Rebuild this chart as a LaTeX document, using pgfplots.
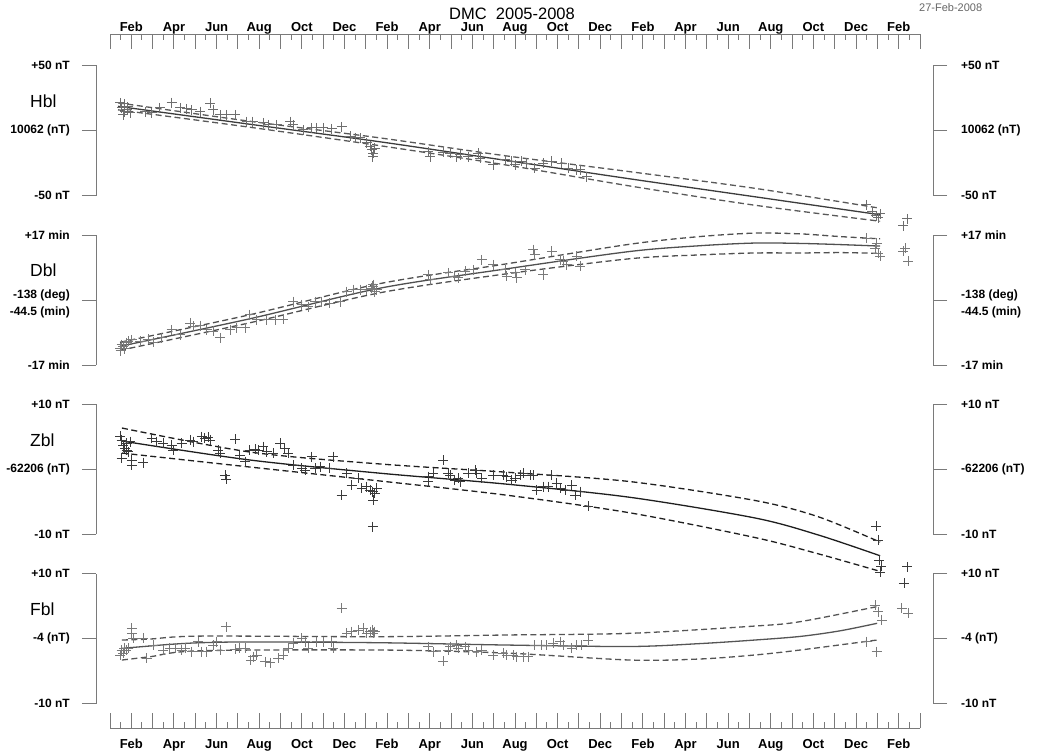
\documentclass[border=0pt]{standalone}
\usepackage{pgfplots}
\pgfplotsset{compat=1.18}
\usepackage{fontspec}
\setmainfont{Liberation Sans}
\definecolor{spine}{HTML}{7A7A7A}
\definecolor{mkH}{HTML}{6E6E6E}
\definecolor{lnH}{HTML}{3C3C3C}
\definecolor{mkD}{HTML}{7A7A7A}
\definecolor{lnD}{HTML}{505050}
\definecolor{mkZ}{HTML}{3A3A3A}
\definecolor{lnZ}{HTML}{1E1E1E}
\definecolor{mkF}{HTML}{7A7A7A}
\definecolor{lnF}{HTML}{555555}
\pgfplotsset{
  panelbase/.style={width=837pt,height=130pt,scale only axis,xmin=-0.656,xmax=38.58,clip=false,
    axis x line=none, tick align=outside, major tick length=14pt,
    axis line style={-,spine,line width=1pt}, every tick/.append style={spine,line width=1pt},
    minor tick num=0},
  panelL/.style={panelbase, axis y line*=left,
    yticklabel style={font=\bfseries\fontsize{12}{17.7}\selectfont, inner sep=0pt, align=right, anchor=east, xshift=-12pt}},
  panelR/.style={panelbase, axis y line*=right,
    yticklabel style={font=\bfseries\fontsize{12}{17.7}\selectfont, inner sep=0pt, align=left, anchor=west, xshift=14pt}},
  marks/.style={only marks, mark=+, mark size=5pt, mark options={line width=0.9pt, solid}},
  fit/.style={smooth, no marks, line width=1.3pt},
  band/.style={smooth, no marks, line width=1.3pt, dash pattern=on 6pt off 3.5pt},
  timeax/.style={width=810pt,height=20pt,scale only axis,xmin=0,xmax=38,ymin=0,ymax=1,
    axis y line=none, tick align=inside, major tick length=15pt, minor tick length=6pt,
    xtick={0,...,38}, minor xtick={0.5,1.5,...,37.5},
    xticklabels={,Feb,,Apr,,Jun,,Aug,,Oct,,Dec,,Feb,,Apr,,Jun,,Aug,,Oct,,Dec,,Feb,,Apr,,Jun,,Aug,,Oct,,Dec,,Feb,},
    axis line style={-,spine,line width=1pt}, every tick/.append style={spine,line width=1pt}},
}
\begin{document}
\begin{tikzpicture}
\path[use as bounding box] (0pt,0pt) rectangle (1048pt,-755pt);

% title and date
\node[anchor=base, inner sep=0pt, font=\fontsize{16.5}{16.5}\selectfont] at (512pt,-19pt) {DMC\ \ 2005-2008};
\node[anchor=base west, inner sep=0pt, text=black!60, font=\fontsize{11}{11}\selectfont] at (919pt,-11pt) {27-Feb-2008};

% panel names
\node[anchor=west, inner sep=0pt, font=\fontsize{17.5}{17.5}\selectfont] at (30pt,-101pt) {Hbl};
\node[anchor=west, inner sep=0pt, font=\fontsize{17.5}{17.5}\selectfont] at (30pt,-270pt) {Dbl};
\node[anchor=west, inner sep=0pt, font=\fontsize{17.5}{17.5}\selectfont] at (30pt,-440pt) {Zbl};
\node[anchor=west, inner sep=0pt, font=\fontsize{17.5}{17.5}\selectfont] at (30pt,-609pt) {Fbl};

% top time axis
\begin{axis}[timeax, at={(110pt,-34pt)}, anchor=north west, axis x line*=top,
  xticklabel style={font=\bfseries\fontsize{13}{13}\selectfont, inner sep=0pt, anchor=base, yshift=3pt}]
\end{axis}
% bottom time axis
\begin{axis}[timeax, at={(110pt,-728pt)}, anchor=south west, axis x line*=bottom,
  xticklabel style={font=\bfseries\fontsize{13}{13}\selectfont, inner sep=0pt, anchor=base, yshift=-20pt}]
\end{axis}

% ---------------- Hbl ----------------
\begin{axis}[panelL, at={(96pt,-195.5pt)}, anchor=south west, ymin=-50, ymax=50,
  ytick={-50,0,50}, yticklabels={-50 nT,10062 (nT),+50 nT}]
\addplot[marks, color=mkH] coordinates {
(0.47,21.3)(0.56,17.5)(0.70,14.4)(0.80,15.9)(0.61,12.1)(0.84,18.2)(0.94,13.6)(0.66,20.5)
(1.64,14.6)(1.95,13.6)(2.34,17.5)(2.89,21.5)(3.28,17.5)(3.60,16.7)(3.83,15.9)(4.22,14.6)
(4.69,21.1)(4.83,15.9)(5.16,12.1)(5.47,12.1)(5.86,12.1)(6.41,6.9)(6.70,6.9)(7.17,5.9)
(7.41,4.4)(7.82,4.4)(8.44,6.9)(8.58,4.4)(9.05,0.5)(9.46,2.1)(9.69,2.1)(9.99,2.1)
(10.39,1.3)(10.86,2.8)(11.25,-4.6)(11.49,-5.6)(11.72,-5.6)(12.03,-9.5)(12.19,-12.3)
(12.27,-14.8)(12.34,-17.4)(12.42,-13.5)(12.32,-20.0)
(15.00,-20.0)(14.91,-16.2)(15.61,-16.9)(15.94,-17.4)(16.25,-20.0)(16.41,-18.7)(16.78,-20.0)
(17.25,-17.4)(17.35,-21.2)(17.96,-26.4)(18.52,-22.5)(18.83,-23.8)(18.99,-26.4)(19.30,-23.8)
(19.54,-25.1)(19.92,-28.9)(20.30,-25.1)(20.71,-23.8)(21.18,-25.1)(21.47,-28.9)(21.88,-30.2)
(22.03,-30.2)(22.35,-35.4)
(35.44,-57.2)(35.72,-62.5)(35.91,-65.6)(36.10,-64.1)(36.01,-67.2)(37.18,-73.3)(37.37,-67.9)
};
\addplot[fit, color=lnH] coordinates {
(0.375,18.6)(6.56,4.8)(12.66,-8.7)(18.52,-22.9)(24.38,-37.2)(30.24,-51.0)(36.10,-64.8)};
\addplot[band, color=lnH!85!white] coordinates {
(0.375,21.3)(6.56,7.1)(12.66,-5.7)(18.52,-19.4)(24.38,-31.7)(30.24,-44.5)(36.10,-59.8)};
\addplot[band, color=lnH!85!white] coordinates {
(0.375,15.9)(6.56,2.5)(12.66,-11.7)(18.52,-26.4)(24.38,-42.7)(30.24,-57.5)(36.10,-69.8)};
\end{axis}
\begin{axis}[panelR, at={(96pt,-195.5pt)}, anchor=south west, ymin=-50, ymax=50,
  ytick={-50,0,50}, yticklabels={-50 nT,10062 (nT),+50 nT}]
\end{axis}

% ---------------- Dbl ----------------
\begin{axis}[panelL, at={(96pt,-365pt)}, anchor=south west, ymin=-17, ymax=17,
  ytick={-17,17}, yticklabels={-17 min,+17 min},
  extra y ticks={0}, extra y tick labels={{-138 (deg)\\-44.5 (min)}},
  extra y tick style={yticklabel style={yshift=-4pt}}]
\addplot[marks, color=mkD] coordinates {
(0.47,-12.6)(0.55,-11.7)(0.62,-12.1)(0.75,-11.2)(0.86,-10.8)(1.02,-10.4)(0.50,-13.3)(0.66,-12.8)
(1.41,-10.8)(1.80,-10.2)(2.03,-11.1)(2.42,-9.9)(2.89,-7.8)(3.28,-9.1)(3.75,-6.0)(3.91,-6.9)
(4.22,-6.7)(4.53,-7.8)(4.84,-8.2)(5.16,-9.9)(5.63,-7.8)(5.94,-7.3)(6.33,-7.3)(6.56,-3.8)
(6.88,-5.2)(7.35,-5.2)(7.74,-5.2)(8.12,-5.0)(8.59,-0.4)(8.99,-1.2)(9.30,-1.7)(9.61,-0.4)
(9.93,-0.4)(10.31,-0.8)(10.78,-0.4)(11.10,2.2)(11.41,2.7)(11.72,2.7)(12.03,2.7)(12.27,3.1)
(12.34,4.0)(12.42,2.2)(12.32,3.6)(12.50,2.7)
(14.92,6.6)(15.00,5.3)(15.86,7.1)(16.17,6.2)(16.33,5.8)(16.64,7.5)(17.03,7.9)(17.43,10.5)
(17.97,9.2)(18.52,7.9)(18.60,6.2)(18.99,7.1)(19.07,5.8)(19.46,7.9)(19.85,13.2)(19.92,11.8)
(20.31,6.6)(20.71,12.7)(21.10,10.5)(21.25,10.1)(21.41,9.2)(21.88,11.4)(22.03,8.8)
(35.47,16.2)(35.94,14.9)(36.02,12.3)(36.10,11.4)(35.86,13.6)(37.27,13.6)(37.19,12.7)(37.43,10.1)
};
\addplot[fit, color=lnD] coordinates {
(0.47,-12.1)(6.56,-4.9)(12.66,3.1)(18.52,8.1)(24.38,12.7)(27.66,14.2)(30.24,14.9)(32.35,14.8)(34.2,14.5)(36.10,14.1)};
\addplot[band, color=lnD] coordinates {
(0.47,-11.05)(6.56,-3.85)(12.66,4.3)(18.52,9.4)(24.38,14.6)(27.66,16.6)(30.24,17.5)(32.35,17.3)(34.2,16.6)(36.10,16.0)};
\addplot[band, color=lnD] coordinates {
(0.47,-13.15)(6.56,-5.95)(12.66,1.9)(18.52,6.8)(24.38,10.8)(27.66,11.8)(30.24,12.3)(32.35,12.3)(34.2,12.4)(36.10,12.2)};
\end{axis}
\begin{axis}[panelR, at={(96pt,-365pt)}, anchor=south west, ymin=-17, ymax=17,
  ytick={-17,17}, yticklabels={-17 min,+17 min},
  extra y ticks={0}, extra y tick labels={{-138 (deg)\\-44.5 (min)}},
  extra y tick style={yticklabel style={yshift=-4pt}}]
\end{axis}

% ---------------- Zbl ----------------
\begin{axis}[panelL, at={(96pt,-534.3pt)}, anchor=south west, ymin=-10, ymax=10,
  ytick={-10,0,10}, yticklabels={-10 nT,-62206 (nT),+10 nT}]
\addplot[marks, color=mkZ] coordinates {
(0.47,5.12)(0.55,4.51)(0.62,3.74)(0.70,3.23)(0.78,4.0)(0.86,2.71)(0.55,1.69)(1.02,1.43)
(1.02,0.66)(0.78,2.97)(0.94,4.25)(1.56,1.02)(1.95,4.77)(2.19,4.25)(2.50,4.0)(2.89,3.74)
(2.97,2.97)(3.36,4.0)(3.75,4.51)(3.91,4.25)(4.30,5.02)(4.45,4.77)(4.61,4.92)(4.69,4.51)
(5.08,2.97)(5.16,2.46)(5.39,-0.88)(5.44,-1.54)(5.86,4.62)(6.09,2.2)(6.33,1.17)(6.56,2.97)
(6.80,3.08)(6.95,2.97)(7.19,3.48)(7.35,2.71)(7.66,2.46)(7.97,4.0)(8.20,3.23)(8.36,2.46)
(8.59,0.66)(8.99,0.15)(9.14,-0.11)(9.46,1.94)(9.61,0.15)(9.85,0.4)(10.31,0.15)(10.47,1.94)
(10.86,-3.95)(11.10,-0.62)(11.33,-2.42)(11.64,-1.38)(11.80,-2.92)(12.03,-2.68)(12.19,-3.18)
(12.32,-3.45)(12.42,-3.69)(12.34,-4.72)(12.50,-2.92)(12.32,-8.83)
(14.92,-1.14)(14.92,-1.91)(15.16,-0.62)(15.63,1.43)(15.86,-0.62)(15.94,-0.88)(16.17,-1.65)
(16.33,-1.38)(16.41,-1.91)(16.80,-0.62)(17.11,-0.11)(17.19,-0.62)(17.43,-1.38)(17.97,-0.88)
(18.44,-0.88)(18.60,-1.14)(18.83,-1.65)(18.99,-1.38)(19.22,-0.88)(19.38,-0.62)(19.69,-0.88)
(19.85,-0.88)(20.00,-3.18)(20.31,-2.68)(20.55,-2.68)(20.71,-0.88)(20.94,-2.15)(21.10,-2.92)
(21.33,-3.18)(21.65,-2.42)(21.80,-3.95)(22.03,-3.45)(22.42,-5.65)
(35.91,-8.72)(36.01,-10.88)(36.05,-13.95)(36.15,-14.88)(36.10,-15.8)(37.22,-17.5)(37.37,-15.0)
};
\addplot[fit, color=lnZ] coordinates {
(0.56,4.35)(6.56,1.43)(12.66,-0.6)(18.52,-2.26)(24.38,-4.31)(30.24,-7.49)(33.2,-10.1)(36.10,-13.3)};
\addplot[band, color=lnZ] coordinates {
(0.56,6.35)(6.56,2.66)(12.66,0.82)(18.52,-0.43)(24.38,-1.89)(30.24,-4.8)(33.2,-7.3)(36.10,-11.2)};
\addplot[band, color=lnZ] coordinates {
(0.56,2.5)(6.56,0.35)(12.66,-1.8)(18.52,-3.95)(24.38,-6.7)(30.24,-10.5)(33.2,-13.0)(36.10,-15.7)};
\end{axis}
\begin{axis}[panelR, at={(96pt,-534.3pt)}, anchor=south west, ymin=-10, ymax=10,
  ytick={-10,0,10}, yticklabels={-10 nT,-62206 (nT),+10 nT}]
\end{axis}

% ---------------- Fbl ----------------
\begin{axis}[panelL, at={(96pt,-703.7pt)}, anchor=south west, ymin=-10, ymax=10,
  ytick={-10,0,10}, yticklabels={-10 nT,-4 (nT),+10 nT}]
\addplot[marks, color=mkF] coordinates {
(0.47,-2.51)(0.55,-1.74)(0.66,-1.48)(0.75,-1.74)(0.86,-1.48)(0.62,-2.25)(1.02,1.6)(1.02,0.83)
(1.09,0.06)(1.56,0.06)(1.72,-3.02)(2.03,-0.97)(2.50,-1.74)(2.81,-1.48)(3.05,-1.48)(3.36,-1.74)
(3.52,-1.48)(3.83,-2.0)(4.14,-0.46)(4.30,-2.0)(4.53,-2.0)(4.84,-0.97)(5.0,-0.46)(5.16,-1.74)
(5.44,1.85)(5.86,-1.63)(6.09,-1.48)(6.33,-1.48)(6.60,-3.28)(6.72,-2.77)(6.88,-2.51)(7.27,-3.54)
(7.50,-3.69)(7.89,-3.02)(8.12,-2.51)(8.36,-1.48)(8.59,-0.71)(8.99,0.06)(9.14,-0.46)(9.30,-1.48)
(9.69,-0.46)(10.0,-0.46)(10.39,-0.46)(10.47,-1.48)(10.86,4.68)(11.10,0.83)(11.33,1.08)
(11.64,1.34)(11.88,1.6)(12.03,0.83)(12.19,1.08)(12.32,1.34)(12.34,0.83)(12.42,1.08)
(14.92,-1.23)(15.16,-2.0)(15.63,-3.43)(15.86,-1.74)(15.94,-1.23)(16.25,-0.97)(16.33,-1.48)
(16.64,-1.23)(16.80,-1.74)(17.19,-2.0)(17.43,-1.74)(17.97,-2.51)(18.44,-2.25)(18.60,-2.51)
(18.91,-2.51)(19.07,-2.77)(19.38,-2.77)(19.61,-2.77)(19.92,-0.97)(20.24,-0.97)(20.47,-0.97)
(20.78,-0.71)(21.10,-0.46)(21.25,-0.97)(21.65,-1.48)(21.88,-0.97)(22.11,-0.97)(22.42,-0.2)
(35.86,5.18)(36.02,4.15)(36.18,2.88)(35.47,-0.46)(35.94,-2.0)(37.12,4.68)(37.43,3.91)
};
\addplot[fit, color=lnF] coordinates {
(0.56,-1.48)(1.88,-1.12)(2.81,-0.87)(4.22,-0.62)(6.56,-0.5)(12.66,-0.62)(18.52,-0.97)(24.38,-1.2)
(27.66,-0.75)(30.24,-0.2)(32.35,0.35)(34.2,1.2)(35.96,2.37)};
\addplot[band, color=lnF] coordinates {
(0.56,-0.2)(1.88,-0.05)(4.22,0.4)(12.66,0.31)(18.52,0.57)(24.38,0.83)(30.24,1.95)(32.35,2.62)(35.96,4.94)};
\addplot[band, color=lnF] coordinates {
(0.56,-3.28)(1.88,-2.77)(4.22,-1.85)(12.66,-1.74)(18.52,-2.2)(24.38,-3.28)(27.66,-3.12)(30.24,-2.5)(32.35,-1.74)(35.96,-0.2)};
\end{axis}
\begin{axis}[panelR, at={(96pt,-703.7pt)}, anchor=south west, ymin=-10, ymax=10,
  ytick={-10,0,10}, yticklabels={-10 nT,-4 (nT),+10 nT}]
\end{axis}

\end{tikzpicture}
\end{document}
